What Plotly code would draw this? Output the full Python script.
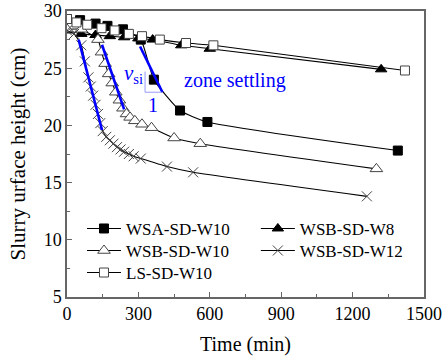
import plotly.graph_objects as go

# ---- data ----
wsa_t = [0, 55, 120, 170, 235, 310, 365, 475, 590, 1390]
wsa_h = [29.3, 29.2, 28.9, 28.7, 28.4, 27.5, 24.0, 21.3, 20.3, 17.8]

w8_t = [0, 60, 120, 180, 240, 300, 360, 480, 600, 1320]
w8_h = [28.3, 28.0, 27.9, 27.8, 27.7, 27.6, 27.5, 27.0, 26.7, 24.9]

w10_t = [0, 60, 130, 145, 160, 175, 190, 205, 220, 235, 250, 265, 285, 315, 355, 450, 560, 1300]
w10_h = [28.4, 28.4, 27.5, 26.4, 25.4, 24.5, 23.7, 22.9, 22.2, 21.5, 21.0, 20.7, 20.4, 20.1, 19.8, 18.9, 18.4, 16.2]

w12_t = [0, 30, 60, 75, 90, 100, 110, 120, 130, 140, 150, 165, 180, 195, 210, 225, 240, 260, 280, 310, 420, 530, 1260]
w12_h = [28.3, 28.0, 27.0, 25.6, 24.2, 23.4, 22.6, 21.8, 21.0, 20.2, 19.5, 19.0, 18.7, 18.4, 18.1, 17.9, 17.7, 17.5, 17.3, 17.1, 16.4, 15.9, 13.8]

ls_t = [0, 40, 85, 145, 200, 260, 315, 390, 500, 615, 1420]
ls_h = [29.3, 29.0, 28.8, 28.5, 28.3, 28.0, 27.8, 27.5, 27.2, 27.0, 24.8]

# zone-settling tangent lines (start, end)
tan_wsa_t = [307, 401]
tan_wsa_h = [26.9, 22.9]
tan_w10_t = [147, 240]
tan_w10_h = [27.05, 21.4]
tan_w12_t = [49, 147]
tan_w12_h = [27.5, 19.6]

# slope triangle
tri_t = [328, 328, 398]
tri_h = [24.7, 22.9, 22.9]

FONT = "Liberation Serif"

fig = go.Figure()

def add_series(t, h, name, symbol, fill, size, lcol, legend):
    fig.add_trace(go.Scatter(
        x=t, y=h, name=name, mode="lines+markers", legend=legend,
        line=dict(color="black", width=1.1, shape="spline", smoothing=0.5),
        marker=dict(symbol=symbol, size=size, color=fill,
                    line=dict(color=lcol, width=1)),
    ))

add_series(wsa_t, wsa_h, "WSA-SD-W10", "square", "black", 9, "black", "legend")
add_series(w8_t, w8_h, "WSB-SD-W8", "triangle-up", "black", 10, "black", "legend2")
add_series(w10_t, w10_h, "WSB-SD-W10", "triangle-up", "white", 11, "#444", "legend3")
add_series(w12_t, w12_h, "WSB-SD-W12", "x-thin", "#444", 10, "#444", "legend4")
add_series(ls_t, ls_h, "LS-SD-W10", "square", "white", 9, "#444", "legend5")

for tt, hh in [(tan_wsa_t, tan_wsa_h), (tan_w10_t, tan_w10_h), (tan_w12_t, tan_w12_h)]:
    fig.add_trace(go.Scatter(x=tt, y=hh, mode="lines", showlegend=False,
                             line=dict(color="#0000ff", width=2.6), hoverinfo="skip"))

fig.add_trace(go.Scatter(x=tri_t, y=tri_h, mode="lines", showlegend=False,
                         line=dict(color="#9a9aff", width=1), hoverinfo="skip"))

fig.add_annotation(x=278, y=24.5, text="<i>v</i><sub>si</sub>", showarrow=False,
                   font=dict(family=FONT, size=21, color="#0000ff"))
fig.add_annotation(x=362, y=21.8, text="1", showarrow=False,
                   font=dict(family=FONT, size=20, color="#0000ff"))
fig.add_annotation(x=484, y=23.9, text="zone settling", showarrow=False, xanchor="left",
                   font=dict(family=FONT, size=20, color="#0000ff"))

axis_common = dict(
    showline=True, linecolor="#666", linewidth=1.5, mirror=True,
    ticks="inside", ticklen=5, tickwidth=1, tickcolor="#666",
    showgrid=False, zeroline=False,
    tickfont=dict(family=FONT, size=18, color="black"),
)

fig.update_xaxes(range=[0, 1500], dtick=300, tick0=0,
                 minor=dict(dtick=150, ticks="inside", ticklen=3, tickcolor="#666"),
                 title=dict(text="Time (min)", font=dict(family=FONT, size=20, color="black"), standoff=14),
                 **axis_common)
fig.update_yaxes(range=[5, 30], dtick=5, tick0=0,
                 minor=dict(dtick=2.5, ticks="inside", ticklen=3, tickcolor="#666"),
                 title=dict(text="Slurry urface height (cm)", font=dict(family=FONT, size=21, color="black"), standoff=12),
                 **axis_common)

leg_common = dict(xanchor="left", yanchor="middle", orientation="v",
                  font=dict(family=FONT, size=17, color="black"),
                  bgcolor="rgba(0,0,0,0)", tracegroupgap=0, itemwidth=34)

x1, x2 = 0.042, 0.529
r1, r2, r3 = 0.238, 0.161, 0.084

fig.update_layout(
    width=444, height=364,
    margin=dict(l=67, r=20, t=11, b=67, autoexpand=False),
    paper_bgcolor="white", plot_bgcolor="white",
    legend=dict(x=x1, y=r1, **leg_common),
    legend2=dict(x=x2, y=r1, **leg_common),
    legend3=dict(x=x1, y=r2, **leg_common),
    legend4=dict(x=x2, y=r2, **leg_common),
    legend5=dict(x=x1, y=r3, **leg_common),
)

fig.write_html("out.html")
